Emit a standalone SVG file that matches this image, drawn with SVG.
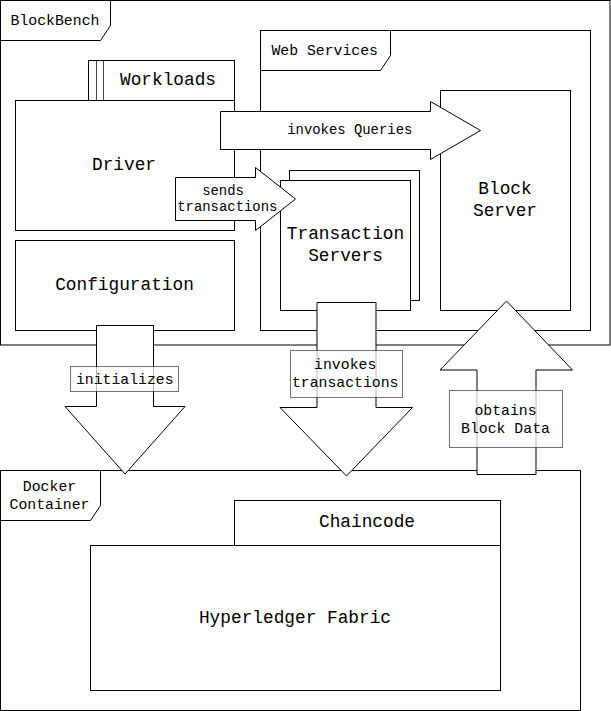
<svg xmlns="http://www.w3.org/2000/svg" width="611" height="711" viewBox="0 0 611 711">
<style>
  .box { fill: #fff; stroke: #000; stroke-width: 1; }
  .frame { fill: #fff; stroke: #000; stroke-width: 1; }
  .tab { fill: none; stroke: #000; stroke-width: 1; }
  .arrow { fill: #fff; stroke: #000; stroke-width: 1; stroke-linejoin: miter; }
  .lbl { fill: #fff; fill-opacity: 0.72; stroke: #000; stroke-opacity: 0.55; stroke-width: 1; }
  text { font-family: "Liberation Mono", "DejaVu Sans Mono", monospace; fill: #000; text-anchor: middle; }
  .big { font-size: 17.8px; }
  .mid { font-size: 14.8px; }
  .sm { font-size: 13.9px; }
</style>
<rect width="611" height="711" fill="#fff"/>

<g id="blockbench">
  <rect class="frame" x="0.5" y="0.5" width="609.5" height="344.5"/>
  <path class="tab" d="M0.5,40.5 H100.5 L110.5,25.5 V0.5"/>
  <text class="mid" x="55" y="25">BlockBench</text>
</g>

<g id="web-services">
  <rect class="frame" x="260.5" y="30.5" width="330" height="300"/>
  <path class="tab" d="M260.5,70.5 H380.5 L390.5,55.5 V30.5"/>
  <text class="mid" x="324.7" y="55">Web Services</text>
</g>

<g id="workloads">
  <rect class="box" x="88.5" y="60.5" width="146" height="40"/>
  <path d="M96.5,60.5 V100.5 M103.5,60.5 V100.5" stroke="#444" stroke-width="1" fill="none"/>
  <text class="big" x="168" y="85.3">Workloads</text>
</g>

<g id="driver">
  <rect class="box" x="15.5" y="100.5" width="219" height="130"/>
  <text class="big" x="124" y="170.3">Driver</text>
</g>

<g id="configuration">
  <rect class="box" x="15.5" y="240.5" width="219" height="90"/>
  <text class="big" x="124.5" y="290">Configuration</text>
</g>

<g id="transaction-servers">
  <rect class="box" x="289.5" y="170.5" width="130" height="130"/>
  <rect class="box" x="280.5" y="180.5" width="130" height="130"/>
  <text class="big" x="345.5" y="239">Transaction</text>
  <text class="big" x="345.5" y="260.7">Servers</text>
</g>

<g id="block-server">
  <rect class="box" x="440.5" y="90.5" width="130" height="220"/>
  <text class="big" x="505" y="194">Block</text>
  <text class="big" x="505" y="215.7">Server</text>
</g>

<g id="docker-container">
  <rect class="frame" x="0.5" y="470.5" width="580" height="240"/>
  <path class="tab" d="M0.5,520.5 H90.5 L100.5,505.5 V470.5"/>
  <text class="mid" x="49.5" y="490.7">Docker</text>
  <text class="mid" x="49.5" y="508.7">Container</text>
</g>

<g id="chaincode">
  <rect class="box" x="234.5" y="500.5" width="266" height="45"/>
  <text class="big" x="367" y="526.7">Chaincode</text>
</g>

<g id="hyperledger-fabric">
  <rect class="box" x="90.5" y="545.5" width="410" height="145"/>
  <text class="big" x="295" y="622.7">Hyperledger Fabric</text>
</g>

<g id="connectors">
  <g id="obtains-block-data">
    <path class="arrow" d="M477,474.5 H536 V370 H572.5 L506.5,301 L440,370 H477 Z"/>
    <rect class="lbl" x="449.5" y="390.5" width="113" height="57"/>
    <text class="mid" x="505.5" y="415">obtains</text>
    <text class="mid" x="505.5" y="432.7">Block Data</text>
  </g>
  <g id="sends-transactions">
    <path class="arrow" d="M175.5,177.5 H255.5 V167.5 L295.5,199 L255.5,230.5 V220.5 H175.5 Z"/>
    <text class="sm" x="223" y="195.3">sends</text>
    <text class="sm" x="227.3" y="211">transactions</text>
  </g>
  <g id="invokes-queries">
    <path class="arrow" d="M220.5,111.5 H430.5 V101.5 L480.5,130.5 L430.5,159.5 V149.5 H220.5 Z"/>
    <text class="sm" x="349.8" y="134.3">invokes Queries</text>
  </g>
  <g id="initializes">
    <path class="arrow" d="M96.5,325.5 H153.5 V406.5 H185 L125,474 L65,406.5 H96.5 Z"/>
    <rect class="lbl" x="70.5" y="366.5" width="108" height="25"/>
    <text class="mid" x="124.8" y="383.5">initializes</text>
  </g>
  <g id="invokes-transactions">
    <path class="arrow" d="M317,302.5 H376 V407.5 H412.5 L346.5,476 L280,407.5 H317 Z"/>
    <rect class="lbl" x="290.5" y="350.5" width="112" height="47"/>
    <text class="mid" x="345.2" y="369">invokes</text>
    <text class="mid" x="345.2" y="386.7">transactions</text>
  </g>
</g>
</svg>
